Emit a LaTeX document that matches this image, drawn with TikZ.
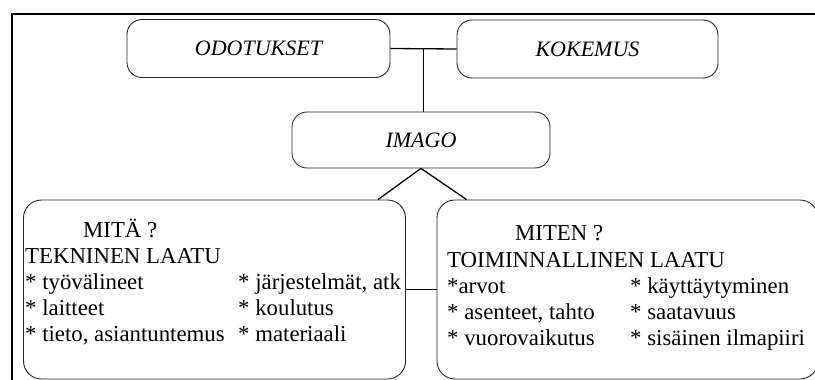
\documentclass[tikz,border=0pt]{standalone}
\usepackage{fontspec}
\setmainfont{Liberation Serif}
\usetikzlibrary{calc}

\begin{document}
\begin{tikzpicture}[
    x=1pt, y=-1pt,
    title/.style={rectangle, draw=black!85, rounded corners=15pt, minimum height=58pt, font=\fontsize{22}{26}\selectfont\itshape, line width=0.9pt},
    group/.style={rectangle, draw=black!85, rounded corners=18pt, minimum width=382pt, minimum height=179pt, line width=0.9pt},
    item/.style={anchor=base west, inner sep=0pt, font=\fontsize{22.8}{27}\selectfont},
    link/.style={draw=black, line width=1.3pt},
    frame/.style={draw=black, line width=2.5pt}
]
\useasboundingbox (0,0) rectangle (815,380);
\clip (0,0) rectangle (815,380);

% Outer frame
\draw[frame] (12,14) rectangle (840,400);

% Row 1: Odotukset and kokemus
\node[title, minimum width=263pt] (odotukset) at (258.5,48.5) {ODOTUKSET};
\node[title, minimum width=261pt] (kokemus) at (587.5,49) {KOKEMUS};

% Row 2: Imago
\node[title, minimum width=258pt, minimum height=56pt] (imago) at (421,140) {IMAGO};

% Row 3: Quality boxes
\node[group] (mita) at (214.5,289.5) {};
\node[group, minimum width=381pt] (miten) at (627.5,289.5) {};

% Technical quality
\node[item] (mitaq) at (83,237) {MITÄ ?};
\node[item] (tekn) at (25,263) {TEKNINEN LAATU};
\node[item] (tyov) at (25,289) {* työvälineet};
\node[item] (lait) at (25,315) {* laitteet};
\node[item] (tieto) at (25,341) {* tieto, asiantuntemus};
\node[item] (jarj) at (238,289) {* järjestelmät, atk};
\node[item] (koul) at (238,315) {* koulutus};
\node[item] (mater) at (238,341) {* materiaali};

% Functional quality
\node[item] (mitenq) at (515,240) {MITEN ?};
\node[item] (toim) at (447,267) {TOIMINNALLINEN LAATU};
\node[item] (arvot) at (447,293) {*arvot};
\node[item] (asent) at (447,319) {* asenteet, tahto};
\node[item] (vuoro) at (447,345) {* vuorovaikutus};
\node[item] (kayt) at (630,293) {* käyttäytyminen};
\node[item] (saat) at (630,319) {* saatavuus};
\node[item] (ilma) at (630,345) {* sisäinen ilmapiiri};

% Connections
\coordinate (join) at ($(odotukset.east)!0.5!(kokemus.west)$);
\draw[link] (odotukset.east) -- (kokemus.west);
\draw[link] (join) -- (join |- imago.north);
\draw[link] (imago.south) -- ($(mita.north east)+(-28,0)$);
\draw[link] (imago.south) -- ($(miten.north west)+(30,0)$);
\draw[link] (mita.east) -- (miten.west);

\end{tikzpicture}
\end{document}
